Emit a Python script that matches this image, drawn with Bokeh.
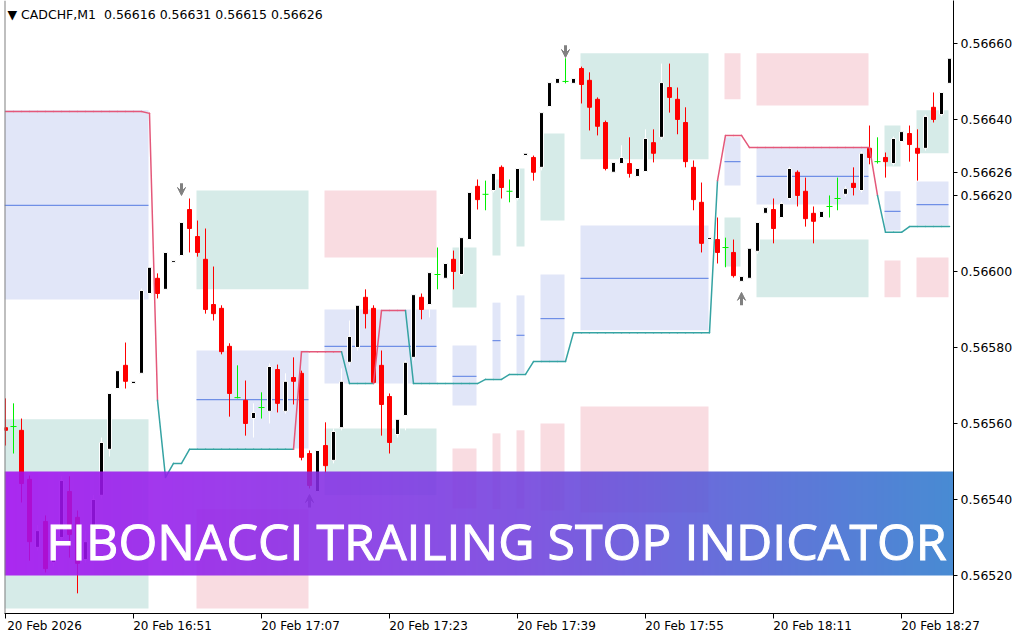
import numpy as np
from bokeh.plotting import figure
from bokeh.models import (Range1d, FixedTicker, NumeralTickFormatter, Label, LinearAxis,
                          Arrow, VeeHead, ColumnDataSource, Span)
from bokeh.embed import file_html
from bokeh.resources import INLINE

# ---------------------------------------------------------------- data
symbol = "CADCHF,M1"
header_ohlc = ["0.56616", "0.56631", "0.56615", "0.56626"]
last_price = 0.56626
banner_text = "FIBONACCI TRAILING STOP INDICATOR"

time_tick_bars = [0, 16, 32, 48, 64, 80, 96, 112]
time_tick_labels = ["20 Feb 2026", "20 Feb 16:51", "20 Feb 17:07", "20 Feb 17:23",
                    "20 Feb 17:39", "20 Feb 17:55", "20 Feb 18:11", "20 Feb 18:27"]
price_ticks = [0.5652, 0.5654, 0.5656, 0.5658, 0.5660, 0.5662, 0.5664, 0.5666]

opens = [0.565589, 0.565592, 0.565582, 0.565453, 0.565274, 0.565342, 0.565234, 0.565300, 0.565421, 0.565353,
         0.565242, 0.565271, 0.565411, 0.565532, 0.565692, 0.565753, 0.565705, 0.565732, 0.565942, 0.565982,
         0.565953, 0.566024, 0.566042, 0.566163, 0.566092, 0.566032, 0.565913, 0.565903, 0.565803, 0.565668,
         0.565661, 0.565613, 0.565642, 0.565632, 0.565742, 0.565632, 0.565721, 0.565732, 0.565521, 0.565421,
         0.565542, 0.565503, 0.565589, 0.565761, 0.565800, 0.565932, 0.565903, 0.565753, 0.565671, 0.565571,
         0.565621, 0.565774, 0.565932, 0.565913, 0.565992, 0.565982, 0.566032, 0.565992, 0.566084, 0.566224,
         0.566203, 0.566213, 0.566274, 0.566211, 0.566192, 0.566305, 0.566300, 0.566274, 0.566434, 0.566495,
         0.566500, 0.566495, 0.566534, 0.566503, 0.566453, 0.566392, 0.566261, 0.566284, 0.566284, 0.566250,
         0.566263, 0.566339, 0.566353, 0.566484, 0.566453, 0.566392, 0.566274, 0.566182, 0.566084, 0.566084,
         0.566063, 0.566050, 0.565974, 0.565982, 0.566053, 0.566153, 0.566163, 0.566142, 0.566192, 0.566261,
         0.566211, 0.566153, 0.566142, 0.566171, 0.566192, 0.566203, 0.566232, 0.566213, 0.566324, 0.566289,
         0.566300, 0.566284, 0.566342, 0.566363, 0.566324, 0.566324, 0.566432, 0.566413, 0.566495]
highs = [0.565666, 0.565653, 0.565613, 0.565463, 0.565332, 0.565358, 0.565318, 0.565461, 0.565461, 0.565371,
         0.565318, 0.565411, 0.565563, 0.565687, 0.565750, 0.565813, 0.565718, 0.565955, 0.566016, 0.565995,
         0.566055, 0.566034, 0.566134, 0.566192, 0.566134, 0.566113, 0.566013, 0.565911, 0.565811, 0.565753,
         0.565713, 0.565653, 0.565682, 0.565758, 0.565755, 0.565732, 0.565774, 0.565739, 0.565529, 0.565537,
         0.565603, 0.565587, 0.565745, 0.565871, 0.565918, 0.565953, 0.565911, 0.565792, 0.565679, 0.565618,
         0.565766, 0.565945, 0.565942, 0.566003, 0.566063, 0.566026, 0.566055, 0.566095, 0.566213, 0.566242,
         0.566239, 0.566263, 0.566279, 0.566242, 0.566276, 0.566316, 0.566305, 0.566424, 0.566503, 0.566513,
         0.566561, 0.566513, 0.566539, 0.566524, 0.566458, 0.566397, 0.566292, 0.566332, 0.566353, 0.566276,
         0.566374, 0.566374, 0.566547, 0.566547, 0.566484, 0.566432, 0.566292, 0.566234, 0.566095, 0.566142,
         0.566089, 0.566084, 0.565992, 0.566066, 0.566134, 0.566174, 0.566192, 0.566184, 0.566276, 0.566266,
         0.566247, 0.566171, 0.566163, 0.566200, 0.566247, 0.566224, 0.566274, 0.566316, 0.566384, 0.566353,
         0.566313, 0.566355, 0.566374, 0.566384, 0.566374, 0.566413, 0.566471, 0.566476, 0.566566]
lows = [0.565542, 0.565521, 0.565392, 0.565239, 0.565266, 0.565208, 0.565224, 0.565292, 0.565247, 0.565153,
        0.565234, 0.565261, 0.565403, 0.565513, 0.565682, 0.565692, 0.565697, 0.565724, 0.565934, 0.565929,
        0.565945, 0.566018, 0.566034, 0.566050, 0.566039, 0.565889, 0.565871, 0.565782, 0.565618, 0.565666,
        0.565568, 0.565563, 0.565613, 0.565600, 0.565629, 0.565626, 0.565650, 0.565503, 0.565429, 0.565413,
        0.565471, 0.565495, 0.565582, 0.565753, 0.565792, 0.565850, 0.565705, 0.565568, 0.565521, 0.565563,
        0.565582, 0.565766, 0.565874, 0.565879, 0.565953, 0.565976, 0.565953, 0.565987, 0.566079, 0.566163,
        0.566161, 0.566208, 0.566192, 0.566182, 0.566187, 0.566300, 0.566239, 0.566266, 0.566429, 0.566489,
        0.566495, 0.566489, 0.566442, 0.566371, 0.566358, 0.566266, 0.566255, 0.566279, 0.566247, 0.566245,
        0.566258, 0.566287, 0.566347, 0.566418, 0.566361, 0.566274, 0.566161, 0.566050, 0.566079, 0.566021,
        0.566011, 0.565984, 0.565968, 0.565976, 0.566047, 0.566147, 0.566074, 0.566137, 0.566187, 0.566171,
        0.566118, 0.566074, 0.566137, 0.566142, 0.566161, 0.566197, 0.566200, 0.566208, 0.566282, 0.566284,
        0.566247, 0.566279, 0.566337, 0.566289, 0.566239, 0.566318, 0.566392, 0.566408, 0.566489]
closes = [0.565582, 0.565592, 0.565442, 0.565289, 0.565318, 0.565218, 0.565308, 0.565450, 0.565308, 0.565232,
          0.565289, 0.565400, 0.565550, 0.565679, 0.565739, 0.565711, 0.565711, 0.565950, 0.566011, 0.565942,
          0.566050, 0.566029, 0.566129, 0.566113, 0.566050, 0.565900, 0.565889, 0.565789, 0.565679, 0.565668,
          0.565600, 0.565629, 0.565642, 0.565750, 0.565653, 0.565711, 0.565711, 0.565511, 0.565437, 0.565529,
          0.565489, 0.565579, 0.565711, 0.565829, 0.565911, 0.565889, 0.565708, 0.565650, 0.565550, 0.565611,
          0.565761, 0.565939, 0.565900, 0.565997, 0.565992, 0.566021, 0.566000, 0.566089, 0.566208, 0.566189,
          0.566203, 0.566258, 0.566221, 0.566211, 0.566271, 0.566311, 0.566261, 0.566418, 0.566497, 0.566508,
          0.566500, 0.566508, 0.566492, 0.566432, 0.566382, 0.566271, 0.566287, 0.566300, 0.566258, 0.566271,
          0.566350, 0.566311, 0.566497, 0.566458, 0.566400, 0.566289, 0.566189, 0.566074, 0.566089, 0.566050,
          0.566063, 0.565989, 0.565987, 0.566061, 0.566129, 0.566168, 0.566113, 0.566179, 0.566271, 0.566200,
          0.566139, 0.566132, 0.566158, 0.566171, 0.566192, 0.566218, 0.566221, 0.566311, 0.566300, 0.566289,
          0.566289, 0.566350, 0.566368, 0.566334, 0.566311, 0.566408, 0.566400, 0.566471, 0.566561]

# trailing stop level per bar and trend (-1 = down / stop above, +1 = up / stop below)
stop_level = ([0.566421] * 18 + [0.566416, 0.565661, 0.565458, 0.565495, 0.565495]
              + [0.565532] * 14 + [0.565789] * 6 + [0.565705] * 4 + [0.565897] * 4
              + [0.565705] * 9 + [0.565716] * 3 + [0.565729] * 3 + [0.565763] * 5
              + [0.565839] * 18 + [0.566239] + [0.566358] * 3 + [0.566326] * 16
              + [0.566200] + [0.566103] * 3 + [0.566118] * 6)
trend = [-1] * 20 + [1] * 17 + [-1] * 6 + [1] * 4 + [-1] * 4 + [1] * 39 + [-1] * 20 + [1] * 9

# Fibonacci zones (bar ranges and price levels)
zone_start = [0, 24, 40, 56, 61, 64, 67, 72, 90, 94, 110, 114]
zone_end = [18, 38, 54, 59, 62, 65, 70, 88, 92, 108, 112, 118]
zone_dir = [-1, 1, -1, 1, 1, 1, 1, 1, -1, -1, 1, 1]
upper_top = [0.567237, 0.566213, 0.566213, 0.566063, 0.566242, 0.566271, 0.566363, 0.566574, 0.566574, 0.566574, 0.566384, 0.566424]
upper_bot = [0.566739, 0.565953, 0.566037, 0.565905, 0.566042, 0.566066, 0.566134, 0.566295, 0.566453, 0.566437, 0.566276, 0.566311]
mid_top = [0.566424, 0.565792, 0.565900, 0.565805, 0.565918, 0.565937, 0.565992, 0.566121, 0.566353, 0.566326, 0.566211, 0.566237]
mid_line = [0.566174, 0.565663, 0.565803, 0.565724, 0.565818, 0.565832, 0.565876, 0.565982, 0.566289, 0.566250, 0.566158, 0.566176]
mid_bot = [0.565926, 0.565534, 0.565705, 0.565647, 0.565718, 0.565732, 0.565761, 0.565845, 0.566226, 0.566176, 0.566108, 0.566121]
lower_top = [0.565611, 0.565374, 0.565587, 0.565534, 0.565574, 0.565582, 0.565600, 0.565645, 0.566142, 0.566084, 0.566029, 0.566037]
lower_bot = [0.565113, 0.565113, 0.565411, 0.565376, 0.565374, 0.565376, 0.565371, 0.565366, 0.566013, 0.565932, 0.565932, 0.565932]

# signal arrows
arrow_bar = [22, 38, 70, 92]
arrow_tail = [0.566232, 0.565379, 0.566595, 0.565911]
arrow_tip = [0.566200, 0.565413, 0.566563, 0.565945]

# ---------------------------------------------------------------- style
RED = "#FF0000"
GREEN = "#00F000"
TEAL_BOX = "#D6EBE8"
PINK_BOX = "#F9DCE1"
BLUE_BOX = "#E1E6F8"
MID_LINE = "#6F8FE6"
STOP_DN = "#E4587A"
STOP_UP = "#35A3A3"
ARROW = "#808080"
FONT = "DejaVu Sans"

FL = 4                 # frame left (px)
FW, FH = 949, 613      # frame size (px)
X0, X1 = -0.125, 118.5
Y0, Y1 = 0.565100, 0.566713
SHIFT = 4.875          # half label width in bars: time labels start at their tick


def px2x(px):  # canvas pixel -> bar coordinate (layout of decorations only)
    return X0 + (px - FL) * (X1 - X0) / FW


def px2y(py):  # canvas pixel -> price coordinate (layout of decorations only)
    return Y1 - py * (Y1 - Y0) / FH


p = figure(frame_width=FW, frame_height=FH, x_range=Range1d(X0, X1), y_range=Range1d(Y0, Y1),
           output_backend="svg", toolbar_location=None, y_axis_location="right", x_axis_location=None,
           min_border_left=FL, min_border_top=0, min_border_right=70, min_border_bottom=26)
p.grid.visible = False
p.outline_line_color = None
p.background_fill_color = "white"
p.border_fill_color = "white"

# price axis (the last price is shown as an extra labelled tick)
yax = p.yaxis[0]
yax.ticker = FixedTicker(ticks=price_ticks + [last_price])
yax.formatter = NumeralTickFormatter(format="0.00000")
yax.major_tick_in = 0
yax.major_tick_out = 4
yax.minor_tick_line_color = None
yax.axis_line_color = "black"
yax.major_label_text_font = FONT
yax.major_label_text_font_size = "12.5px"
yax.major_label_text_color = "black"
yax.major_label_standoff = 3

# time axis: labels on a shifted range so they start at their tick, ticks as minor ticks
p.extra_x_ranges = {"tlab": Range1d(X0 - SHIFT, X1 - SHIFT)}
xax = LinearAxis(x_range_name="tlab",
                 ticker=FixedTicker(ticks=time_tick_bars, minor_ticks=[b - SHIFT for b in time_tick_bars]),
                 major_label_overrides={b: t for b, t in zip(time_tick_bars, time_tick_labels)},
                 major_tick_line_color=None, major_tick_in=0, major_tick_out=5,
                 minor_tick_line_color="black", minor_tick_in=0, minor_tick_out=5,
                 axis_line_color="black", major_label_standoff=0,
                 major_label_text_font=FONT, major_label_text_font_size="12px",
                 major_label_text_color="black")
p.add_layout(xax, "below")

p.add_layout(Span(location=X0, dimension="height", line_color="#808080", line_width=2))

# zones
left = [s - 0.125 for s in zone_start]
right = [e - 0.125 for e in zone_end]
up_col = [PINK_BOX if d < 0 else TEAL_BOX for d in zone_dir]
lo_col = [TEAL_BOX if d < 0 else PINK_BOX for d in zone_dir]
p.quad(left=left, right=right, top=upper_top, bottom=upper_bot, fill_color=up_col, line_color=None)
p.quad(left=left, right=right, top=mid_top, bottom=mid_bot, fill_color=BLUE_BOX, line_color=None)
p.quad(left=left, right=right, top=lower_top, bottom=lower_bot, fill_color=lo_col, line_color=None)
p.segment(x0=left, x1=right, y0=mid_line, y1=mid_line, line_color=MID_LINE, line_width=1.2)

# candles
n = len(opens)
bars = list(range(n))


def src(ids):
    return ColumnDataSource(dict(
        x=ids, hi=[highs[i] for i in ids], lo=[lows[i] for i in ids],
        top=[max(opens[i], closes[i]) for i in ids], bot=[min(opens[i], closes[i]) for i in ids]))


bull = src([i for i in bars if closes[i] > opens[i]])
bear = src([i for i in bars if closes[i] < opens[i]])
doji = src([i for i in bars if closes[i] == opens[i]])

p.segment(x0="x", x1="x", y0="lo", y1="hi", source=bull, line_color="white", line_width=1)
p.segment(x0="x", x1="x", y0="lo", y1="hi", source=bear, line_color=RED, line_width=1)
p.segment(x0="x", x1="x", y0="lo", y1="hi", source=doji, line_color=GREEN, line_width=1)
p.vbar(x="x", width=0.5, top="top", bottom="bot", source=bull, fill_color="black", line_color="white", line_width=1)
p.vbar(x="x", width=0.5, top="top", bottom="bot", source=bear, fill_color=RED, line_color=RED, line_width=1)
p.scatter(x="x", y="top", source=doji, marker="dash", size=6, line_color=GREEN, line_width=1)

# trailing stop line
seg_col = [STOP_DN if trend[i + 1] < 0 else STOP_UP for i in range(n - 1)]
p.segment(x0=bars[:-1], x1=bars[1:], y0=stop_level[:-1], y1=stop_level[1:], line_color=seg_col,
          line_width=1.5, line_cap="round")

# arrows (kept under the banner)
asrc = ColumnDataSource(dict(x=arrow_bar, y0=arrow_tail, y1=arrow_tip))
p.add_layout(Arrow(end=VeeHead(size=8, fill_color=ARROW, line_color=ARROW, line_width=1),
                   x_start="x", y_start="y0", x_end="x", y_end="y1", source=asrc,
                   line_color=ARROW, line_width=3, level="underlay"))

# banner: horizontal gradient image, semi-transparent
g_stops = [(0, (165, 13, 240)), (512, (113, 62, 221)), (1024, (36, 133, 202))]


def grad(px):
    for (a, ca), (b, cb) in zip(g_stops[:-1], g_stops[1:]):
        if px <= b:
            t = (px - a) / (b - a)
            return [int(round(ca[k] + (cb[k] - ca[k]) * t)) for k in range(3)]
    return list(g_stops[-1][1])


B_TOP, B_BOT = 471, 575
img = np.zeros((1, FW), dtype=np.uint32)
view = img.view(dtype=np.uint8).reshape((1, FW, 4))
for j in range(FW):
    r, g, b = grad(FL + j + 0.5)
    view[0, j] = (r, g, b, 224)
p.image_rgba(image=[img], x=px2x(FL), y=px2y(B_BOT), dw=X1 - X0, dh=px2y(B_TOP) - px2y(B_BOT))

banner = Label(x=px2x(496), y=px2y(540), text=banner_text, text_align="center",
               text_baseline="alphabetic", text_font="Open Sans", text_font_size="50px",
               text_color="white")
try:
    banner.text_outline_color = "white"
    banner.text_outline_width = 0.8
except Exception:
    pass
p.add_layout(banner)

# header
p.add_layout(Label(x=X0, y=Y1, x_offset=3, y_offset=-6,
                   text="\u25BC " + symbol + " \u00a0" + " ".join(header_ohlc),
                   text_baseline="top", text_align="left", text_font=FONT, text_font_size="12.5px",
                   text_color="black"))

open("out.html", "w").write(file_html(p, INLINE))
